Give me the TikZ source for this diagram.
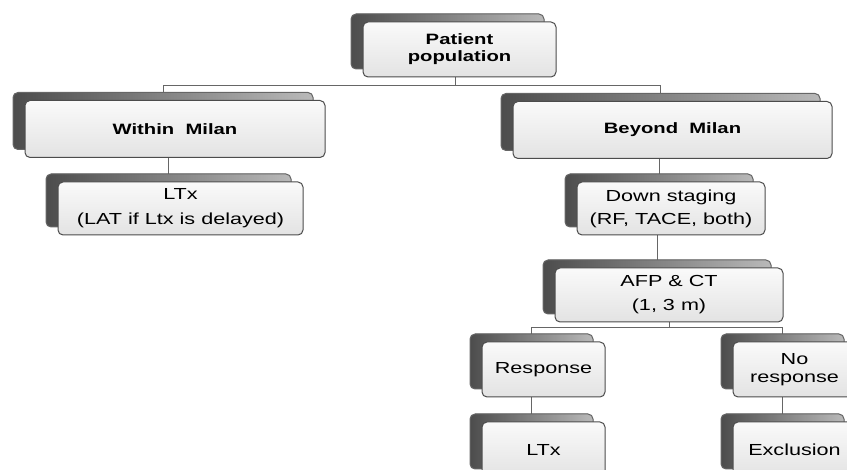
\documentclass[tikz,border=0pt]{standalone}
\usepackage{fontspec}
\setmainfont[FakeStretch=1.35]{Liberation Sans}
\usetikzlibrary{shadows,backgrounds}

\begin{document}
\begin{tikzpicture}[x=1pt,y=-1pt,
    box/.style={draw=black!70, line width=1pt, top color=gray!4, bottom color=gray!22,
        rounded corners=5pt, align=center, inner sep=0pt, font=\fontsize{16}{18}\selectfont,
        copy shadow={shadow xshift=-12pt, shadow yshift=8pt, left color=black!70,
            right color=gray!55, draw=black!60}},
    title/.style={font=\fontsize{15}{17}\selectfont\bfseries},
    link/.style={draw=black!60, line width=0.9pt}]
    \useasboundingbox (0,0) rectangle (847,470);
    \clip (0,0) rectangle (847,470);

    % Top level
    \node[box, title, minimum width=193pt, minimum height=55pt] (pat) at (459.5,49.5)
        {Patient\\population};
    \node[box, title, minimum width=300pt, minimum height=57pt] (within) at (175,129) {Within\ \ Milan};
    \node[box, title, minimum width=319pt, minimum height=57pt] (beyond) at (672.5,130) {Beyond\ \ Milan};

    % Second level
    \node[box, minimum width=245pt, minimum height=53pt] (ltxa) at (180.5,208.5)
        {LTx\\[7pt](LAT if Ltx is delayed)};
    \node[box, minimum width=188pt, minimum height=53pt] (down) at (671,208.5)
        {Down staging\\[5pt](RF, TACE, both)};
    \node[box, minimum width=228pt, minimum height=54pt] (afp) at (669,295)
        {AFP \& CT\\[6pt](1, 3 m)};

    % Follow-up
    \node[box, minimum width=123pt, minimum height=55pt] (resp) at (543.5,369.5) {Response};
    \node[box, minimum width=123pt, minimum height=55pt] (nores) at (794.5,369.5) {No\\response};
    \node[box, minimum width=123pt, minimum height=55pt] (ltxb) at (543.5,449.5) {LTx};
    \node[box, minimum width=123pt, minimum height=55pt] (excl) at (794.5,449.5) {Exclusion};

    % Links
    \begin{scope}[on background layer]
        \draw[link] ([xshift=-4pt]pat.south) -- ++(0,8) coordinate (bar);
        \draw[link] ([xshift=-12pt]within.north) |- (bar) -| ([xshift=-12pt]beyond.north);
        \draw[link] ([xshift=-12pt]ltxa.north) -- ([xshift=-12pt]ltxa.north |- within.south);
        \draw[link] ([xshift=-12pt]down.north) -- ([xshift=-12pt]down.north |- beyond.south);
        \draw[link] ([xshift=-12pt]afp.north) -- ([xshift=-12pt]afp.north |- down.south);
        \draw[link] (afp.south) -- ++(0,5) coordinate (fork);
        \draw[link] ([xshift=-12pt]resp.north) |- (fork) -| ([xshift=-12pt]nores.north);
        \draw[link] ([xshift=-12pt]ltxb.north) -- ([xshift=-12pt]ltxb.north |- resp.south);
        \draw[link] ([xshift=-12pt]excl.north) -- ([xshift=-12pt]excl.north |- nores.south);
    \end{scope}
\end{tikzpicture}
\end{document}
